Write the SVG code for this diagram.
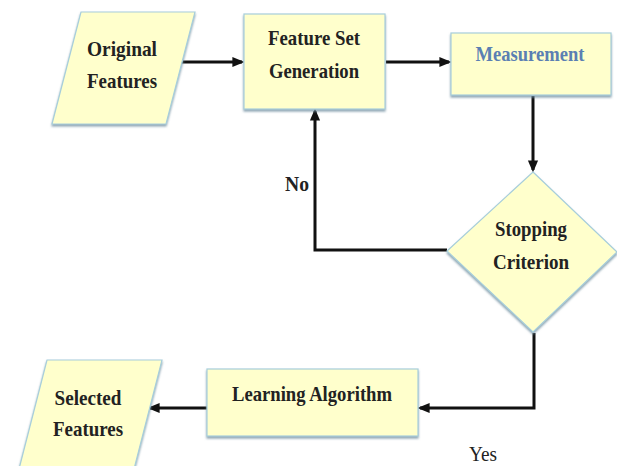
<svg xmlns="http://www.w3.org/2000/svg" width="617" height="466" viewBox="0 0 617 466">
<defs>
<marker id="arr" markerWidth="4" markerHeight="4" refX="3.2" refY="2" orient="auto" markerUnits="strokeWidth">
<path d="M0,0.3 L4,2 L0,3.7 Z" fill="#111"/>
</marker>
<filter id="sh" x="-10%" y="-10%" width="120%" height="130%">
<feDropShadow dx="0" dy="2" stdDeviation="0.8" flood-color="#6f8fa0" flood-opacity="0.8"/>
</filter>
</defs>
<style>
.shape{fill:#FFFFCC;stroke:#A7CEDB;stroke-width:1.2;filter:url(#sh)}
.t{font-family:"Liberation Serif","Times New Roman",serif;font-weight:bold;font-size:22px;fill:#222;text-anchor:middle}
.n{font-weight:normal}
.blue{fill:#5B7FB3}
.c{fill:none;stroke:#111;stroke-width:3}
</style>
<rect width="617" height="466" fill="#fff"/>
<g id="connectors">
<line class="c" x1="178" y1="62" x2="242" y2="62" marker-end="url(#arr)"/>
<line class="c" x1="386" y1="62" x2="449" y2="62" marker-end="url(#arr)"/>
<line class="c" x1="533" y1="96" x2="533" y2="170" marker-end="url(#arr)"/>
<polyline class="c" points="447,250 315,250 315,111" marker-end="url(#arr)"/>
<polyline class="c" points="534,333 534,408 420,408" marker-end="url(#arr)"/>
<line class="c" x1="207" y1="408" x2="150" y2="408" marker-end="url(#arr)"/>
</g>
<g id="original-features">
<polygon class="shape" points="81,12 195,12 166,124 52,124"/>
<text class="t" x="122" y="56" textLength="70" lengthAdjust="spacingAndGlyphs">Original</text>
<text class="t" x="122" y="88" textLength="70" lengthAdjust="spacingAndGlyphs">Features</text>
</g>
<g id="feature-set-generation">
<rect class="shape" x="244" y="14" width="141" height="95"/>
<text class="t" x="314" y="45" textLength="92" lengthAdjust="spacingAndGlyphs">Feature Set</text>
<text class="t" x="314" y="78" textLength="90" lengthAdjust="spacingAndGlyphs">Generation</text>
</g>
<g id="measurement">
<rect class="shape" x="451" y="33" width="160" height="62"/>
<text class="t blue" x="530" y="61" textLength="109" lengthAdjust="spacingAndGlyphs">Measurement</text>
</g>
<g id="stopping-criterion">
<polygon class="shape" points="533,172 617,252 533,332 447,251"/>
<text class="t" x="531" y="236" textLength="72" lengthAdjust="spacingAndGlyphs">Stopping</text>
<text class="t" x="531" y="269" textLength="76" lengthAdjust="spacingAndGlyphs">Criterion</text>
</g>
<g id="learning-algorithm">
<rect class="shape" x="207" y="369" width="211" height="67"/>
<text class="t" x="312" y="401" textLength="160" lengthAdjust="spacingAndGlyphs">Learning Algorithm</text>
</g>
<g id="selected-features">
<polygon class="shape" points="47,360 162,360 133,473 18,473"/>
<text class="t" x="88" y="405" textLength="67" lengthAdjust="spacingAndGlyphs">Selected</text>
<text class="t" x="88" y="436" textLength="70" lengthAdjust="spacingAndGlyphs">Features</text>
</g>
<g id="labels">
<text class="t" x="297" y="191" textLength="24" lengthAdjust="spacingAndGlyphs">No</text>
<text class="t n" x="483" y="461" textLength="28" lengthAdjust="spacingAndGlyphs">Yes</text>
</g>
</svg>
